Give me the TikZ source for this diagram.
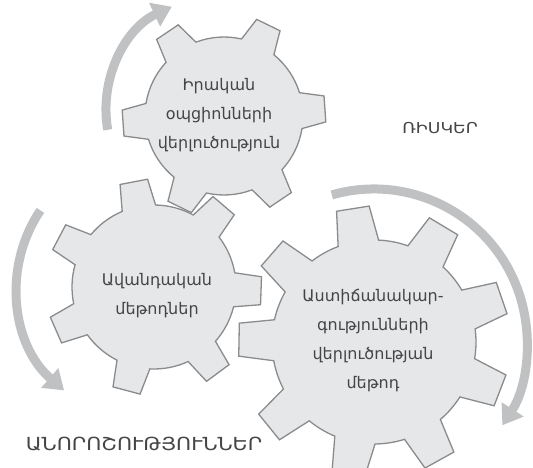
\documentclass[tikz,border=0pt]{standalone}
\usepackage{fontspec}
\setmainfont{DejaVu Sans}
\newfontfamily\widefont{DejaVu Sans}[FakeStretch=1.15]
\usetikzlibrary{arrows.meta}
\definecolor{gearfill}{HTML}{E6E7E8}
\definecolor{gearline}{HTML}{8A8B8D}
\definecolor{arrowgray}{HTML}{C0C1C3}
\definecolor{txt}{HTML}{454547}
\tikzset{
  gear/.style={fill=gearfill, draw=gearline, line width=1.3pt, line join=miter},
  cyclearrow/.style={draw=arrowgray, line width=9pt, -{Triangle[length=19pt,width=25pt]}},
  geartext/.style={text=txt, align=center, font=\fontsize{16}{29}\selectfont},
  risklabel/.style={text=txt, font=\widefont\fontsize{15}{17}\selectfont},
  unclabel/.style={text=txt, font=\widefont\fontsize{18}{20}\selectfont},
}
% center x, center y, teeth, root radius, tip radius, first tooth angle, half base width, half tip width
\newcommand\gearshape[8]{%
  \pgfmathsetmacro\gstep{360/#3}%
  \pgfmathsetmacro\gdb{asin(#7/#4)}%
  \pgfmathsetmacro\gdt{asin(#8/#5)}%
  \draw[gear] ({#1+#4*cos(#6-\gdb)},{#2-#4*sin(#6-\gdb)})
  \foreach \i in {1,...,#3}{
    -- ({#1+#5*cos(#6+(\i-1)*\gstep-\gdt)},{#2-#5*sin(#6+(\i-1)*\gstep-\gdt)})
    -- ({#1+#5*cos(#6+(\i-1)*\gstep+\gdt)},{#2-#5*sin(#6+(\i-1)*\gstep+\gdt)})
    -- ({#1+#4*cos(#6+(\i-1)*\gstep+\gdb)},{#2-#4*sin(#6+(\i-1)*\gstep+\gdb)})
    arc[start angle={-(#6+(\i-1)*\gstep+\gdb)}, end angle={-(#6+\i*\gstep-\gdb)}, radius=#4]
  } -- cycle;
}
\begin{document}
\begin{tikzpicture}[x=1pt,y=-1pt]
\useasboundingbox (0,0) rectangle (533,468);
% cycle arrows
\draw[cyclearrow] ({220+114*cos(190)},{110-114*sin(190)}) arc[start angle=-190, end angle=-115, radius=114];
\draw[cyclearrow] ({154+137*cos(146)},{287-137*sin(146)}) arc[start angle=-146, end angle=-229, radius=137];
\draw[cyclearrow] ({374+153*cos(106)},{342-153*sin(106)}) arc[start angle=-106, end angle=33, radius=153];
% gears
\gearshape{224}{116}{6}{79}{102}{4}{18}{13}
\gearshape{154}{287}{7}{82}{108}{-2}{17}{14}
\gearshape{374}{342}{9}{102}{136}{19}{20.5}{16.5}
% texts
\node[geartext] (g1) at (219,115) {Իրական\\օպցիոնների\\վերլուծություն};
\node[geartext] (g2) at (157,296) {Ավանդական\\մեթոդներ};
\node[geartext] (g3) at (373,341) {Աստիճանակար-\\գությունների\\վերլուծության\\մեթոդ};
\node[risklabel] (risk) at (440,128) {ՌԻՍԿԵՐ};
\node[unclabel] (unc) at (144,444) {ԱՆՈՐՈՇՈՒԹՅՈՒՆՆԵՐ};
\end{tikzpicture}
\end{document}
